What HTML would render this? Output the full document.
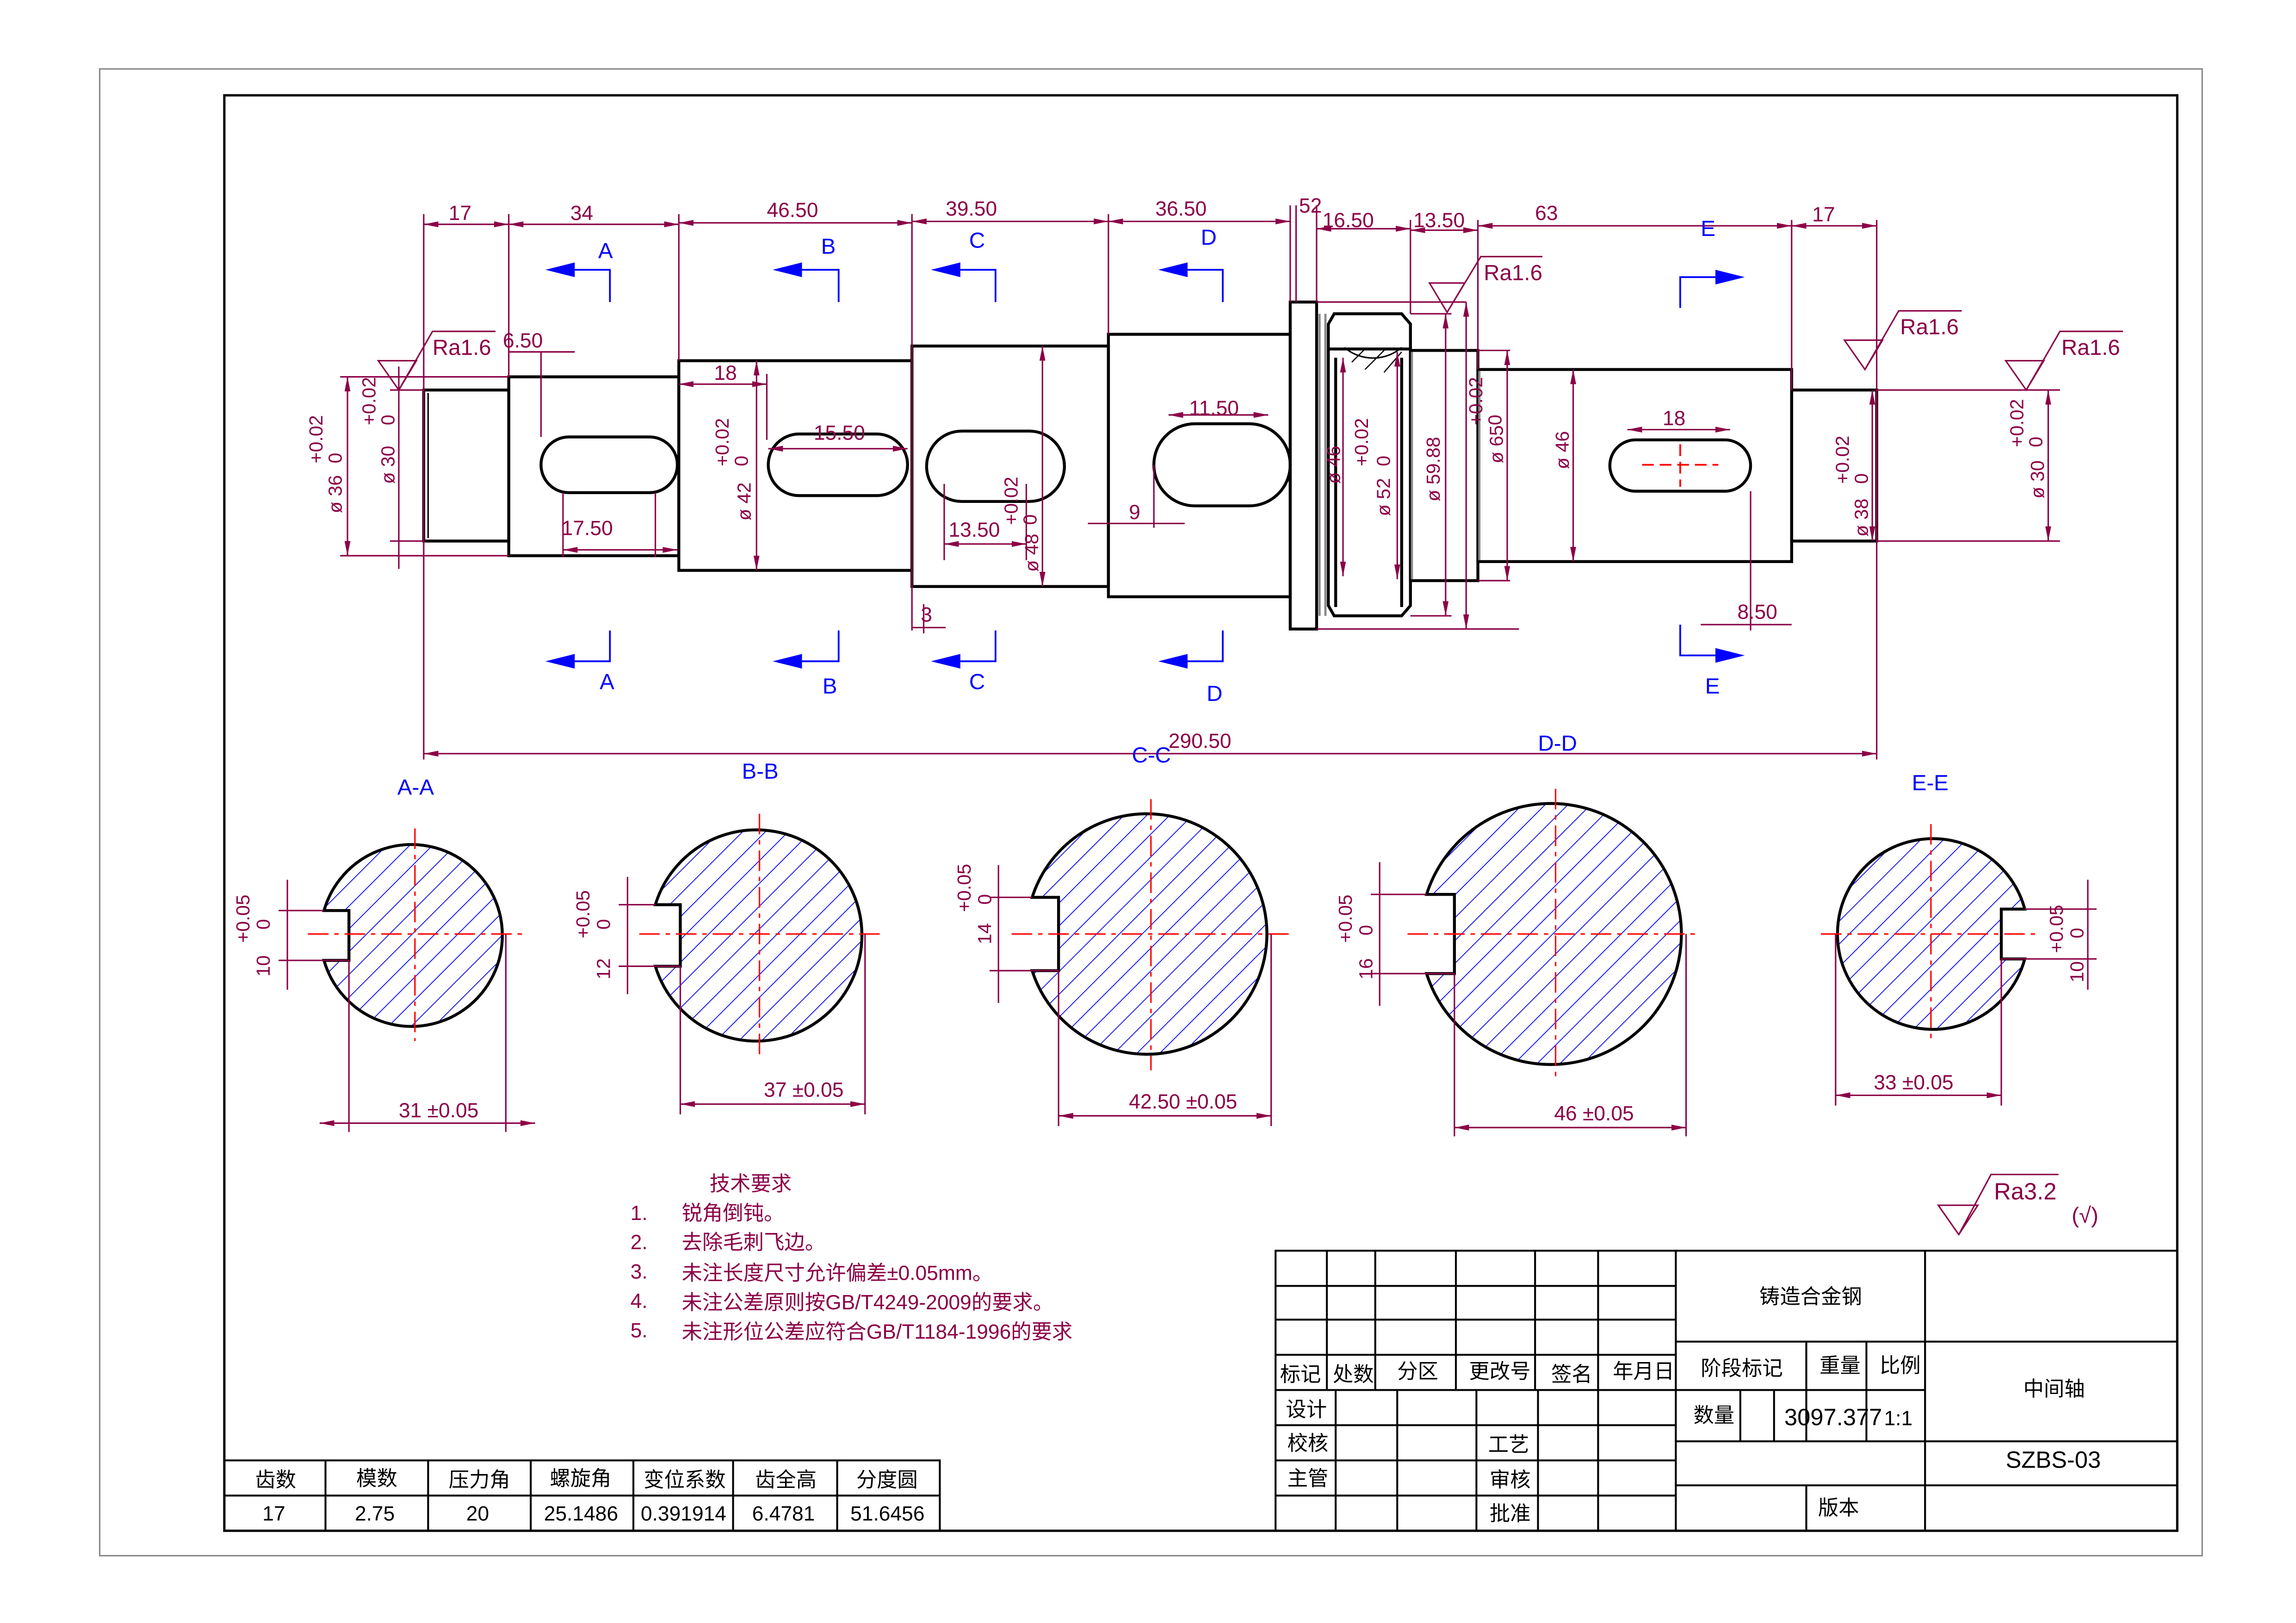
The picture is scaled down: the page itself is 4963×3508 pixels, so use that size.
<!DOCTYPE html>
<html><head><meta charset="utf-8"><style>
html,body{margin:0;padding:0;background:#fff}
svg{display:block}
text{font-family:"Liberation Sans Narrow","Liberation Sans","Noto Sans CJK SC",sans-serif}
</style></head><body>
<svg xmlns="http://www.w3.org/2000/svg" width="4963" height="3508" viewBox="0 0 1566 1106.9" preserveAspectRatio="none">
<defs>
<pattern id="h" patternUnits="userSpaceOnUse" width="11" height="11" patternTransform="rotate(45)">
<line x1="0" y1="0" x2="0" y2="11" stroke="#0000ff" stroke-width="1.1"/></pattern>
<marker id="a" viewBox="0 0 10 4" refX="10" refY="2" markerWidth="10" markerHeight="4" orient="auto-start-reverse" markerUnits="userSpaceOnUse"><path d="M0,0L10,2L0,4z" fill="#8b0046"/></marker>
</defs>
<rect width="1566" height="1107" fill="#fff"/>
<rect x="68" y="47" width="1434" height="1014" fill="none" stroke="#888" stroke-width="1"/>
<rect x="153" y="65" width="1332" height="979" fill="none" stroke="#000" stroke-width="1.6"/>

<!-- SHAFT -->
<g fill="none" stroke="#000" stroke-width="2">
<rect x="289" y="266" width="58" height="103"/>
<line x1="292" y1="268" x2="292" y2="367" stroke-width="1"/>
<rect x="347" y="257" width="116" height="122"/>
<rect x="463" y="246" width="159" height="143"/>
<rect x="622" y="236" width="134" height="164"/>
<rect x="756" y="228" width="124" height="179"/>
<rect x="880" y="206" width="18" height="223"/>
<path d="M906,221 L910,214 L956,214 L962,221 L962,413 L956,420 L910,420 L906,413 Z"/>
<line x1="906" y1="238" x2="962" y2="238"/>
<line x1="911" y1="244" x2="911" y2="414"/>
<line x1="956" y1="244" x2="956" y2="414"/>
<rect x="962" y="239" width="46" height="157"/>
<rect x="1008" y="252" width="214" height="131"/>
<rect x="1222" y="266" width="58" height="103"/>
<path d="M917,237 A30,30 0 0 0 956,237" stroke-width="1"/>
<rect x="369" y="298" width="93" height="38" rx="19"/>
<rect x="524" y="296" width="95" height="42" rx="21"/>
<rect x="632" y="294" width="94" height="48" rx="24"/>
<rect x="787" y="289" width="93" height="56" rx="28"/>
<rect x="1098" y="300" width="96" height="35" rx="17.5"/>
</g>
<g stroke="#888" stroke-width="1.5"><line x1="900" y1="214" x2="900" y2="420"/><line x1="904" y1="214" x2="904" y2="420"/><line x1="963" y1="240" x2="963" y2="395"/><line x1="1009" y1="253" x2="1009" y2="382"/></g>
<g stroke="#000" stroke-width="0.8"><line x1="922" y1="247" x2="931" y2="238"/><line x1="931" y1="252" x2="945" y2="238"/><line x1="944" y1="254" x2="956" y2="240"/></g>
<g stroke="#f00" stroke-width="1.2" stroke-dasharray="8,4"><line x1="1120" y1="317" x2="1172" y2="317"/><line x1="1146" y1="303" x2="1146" y2="332"/></g>

<!-- DIMENSIONS -->
<g stroke="#8b0046" stroke-width="1" fill="none">
<line x1="289" y1="146" x2="289" y2="518"/><line x1="347" y1="146" x2="347" y2="257"/><line x1="463" y1="146" x2="463" y2="246"/><line x1="622" y1="146" x2="622" y2="430"/><line x1="756" y1="146" x2="756" y2="228"/><line x1="880" y1="140" x2="880" y2="206"/><line x1="884" y1="140" x2="884" y2="206"/><line x1="898" y1="140" x2="898" y2="206"/><line x1="962" y1="150" x2="962" y2="214"/><line x1="1008" y1="150" x2="1008" y2="252"/><line x1="1222" y1="150" x2="1222" y2="266"/><line x1="1280" y1="150" x2="1280" y2="518"/>
<line x1="289" y1="153" x2="347" y2="153" marker-start="url(#a)" marker-end="url(#a)"/>
<line x1="347" y1="153" x2="463" y2="153" marker-start="url(#a)" marker-end="url(#a)"/>
<line x1="463" y1="152" x2="622" y2="152" marker-start="url(#a)" marker-end="url(#a)"/>
<line x1="622" y1="151" x2="756" y2="151" marker-start="url(#a)" marker-end="url(#a)"/>
<line x1="756" y1="151" x2="880" y2="151" marker-start="url(#a)" marker-end="url(#a)"/>
<line x1="898" y1="156" x2="962" y2="156" marker-start="url(#a)" marker-end="url(#a)"/>
<line x1="962" y1="157" x2="1008" y2="157" marker-start="url(#a)" marker-end="url(#a)"/>
<line x1="1008" y1="154" x2="1222" y2="154" marker-start="url(#a)" marker-end="url(#a)"/>
<line x1="1222" y1="154" x2="1280" y2="154" marker-start="url(#a)" marker-end="url(#a)"/>
<line x1="289" y1="514" x2="1280" y2="514" marker-start="url(#a)" marker-end="url(#a)"/>
<line x1="232" y1="257" x2="347" y2="257"/><line x1="232" y1="379" x2="347" y2="379"/>
<line x1="237" y1="257" x2="237" y2="379" marker-start="url(#a)" marker-end="url(#a)"/>
<line x1="266" y1="266" x2="289" y2="266"/><line x1="266" y1="369" x2="289" y2="369"/>
<line x1="272" y1="250" x2="272" y2="388"/>
<line x1="1280" y1="266" x2="1405" y2="266"/><line x1="1280" y1="369" x2="1405" y2="369"/>
<line x1="1397" y1="266" x2="1397" y2="369" marker-start="url(#a)" marker-end="url(#a)"/>
<line x1="1280" y1="266" x2="1280" y2="369"/>
<line x1="1277" y1="266" x2="1277" y2="369" marker-start="url(#a)" marker-end="url(#a)"/>
<line x1="516" y1="246" x2="516" y2="389" marker-start="url(#a)" marker-end="url(#a)"/>
<line x1="711" y1="236" x2="711" y2="400" marker-start="url(#a)" marker-end="url(#a)"/>
<line x1="1073" y1="252" x2="1073" y2="383" marker-start="url(#a)" marker-end="url(#a)"/>
<line x1="1008" y1="396" x2="1030" y2="396"/><line x1="1008" y1="239" x2="1030" y2="239"/>
<line x1="1028" y1="239" x2="1028" y2="396" marker-start="url(#a)" marker-end="url(#a)"/>
<line x1="898" y1="206" x2="1000" y2="206"/><line x1="898" y1="429" x2="1036" y2="429"/>
<line x1="1000" y1="206" x2="1000" y2="429" marker-start="url(#a)" marker-end="url(#a)"/>
<line x1="962" y1="214" x2="990" y2="214"/><line x1="962" y1="420" x2="990" y2="420"/>
<line x1="986" y1="214" x2="986" y2="420" marker-start="url(#a)" marker-end="url(#a)"/>
<line x1="953" y1="240" x2="953" y2="395" marker-start="url(#a)" marker-end="url(#a)"/>
<line x1="916" y1="244" x2="916" y2="393" marker-start="url(#a)" marker-end="url(#a)"/>
<line x1="384" y1="375" x2="462" y2="375" marker-start="url(#a)" marker-end="url(#a)"/>
<line x1="384" y1="336" x2="384" y2="380"/><line x1="447" y1="336" x2="447" y2="380"/>
<line x1="347" y1="240" x2="392" y2="240"/><line x1="369" y1="240" x2="369" y2="298"/>
<line x1="463" y1="262" x2="523" y2="262" marker-start="url(#a)" marker-end="url(#a)"/>
<line x1="523" y1="255" x2="523" y2="300"/>
<line x1="524" y1="306" x2="619" y2="306" marker-start="url(#a)" marker-end="url(#a)"/>
<line x1="644" y1="371" x2="700" y2="371" marker-start="url(#a)" marker-end="url(#a)"/>
<line x1="644" y1="330" x2="644" y2="382"/><line x1="700" y1="330" x2="700" y2="382"/>
<line x1="622" y1="428" x2="645" y2="428"/><line x1="630" y1="412" x2="630" y2="432"/>
<line x1="742" y1="357" x2="808" y2="357"/><line x1="787" y1="317" x2="787" y2="360"/>
<line x1="797" y1="283" x2="865" y2="283" marker-start="url(#a)" marker-end="url(#a)"/>
<line x1="1110" y1="293" x2="1180" y2="293" marker-start="url(#a)" marker-end="url(#a)"/>
<line x1="1160" y1="426" x2="1222" y2="426"/><line x1="1194" y1="335" x2="1194" y2="430"/>
<path d="M258,246 L272,266 L284,246 Z M272,266 L295,226 L338,226"/>
<path d="M975,193 L987,213 L999,193 Z M987,213 L1010,175 L1052,175"/>
<path d="M1258,232 L1272,252 L1284,232 Z M1272,252 L1295,212 L1338,212"/>
<path d="M1368,246 L1382,266 L1394,246 Z M1382,266 L1405,226 L1448,226"/>
<path d="M1322,822 L1336,842 L1349,822 Z M1336,842 L1358,801 L1404,801"/>
</g>
<g fill="#8b0046" font-size="14">
<text x="306" y="150">17</text><text x="389" y="150">34</text><text x="523" y="148">46.50</text><text x="645" y="147">39.50</text><text x="788" y="147">36.50</text>
<text x="886" y="145">52</text><text x="902" y="155">16.50</text><text x="964" y="155">13.50</text><text x="1047" y="150">63</text><text x="1236" y="151">17</text>
<text x="797" y="510">290.50</text>
<text x="295" y="242" font-size="15">Ra1.6</text><text x="343" y="237">6.50</text>
<text x="1012" y="191" font-size="15">Ra1.6</text><text x="1296" y="228" font-size="15">Ra1.6</text><text x="1406" y="242" font-size="15">Ra1.6</text>
<text x="1360" y="818" font-size="16">Ra3.2</text><text x="1413" y="834" font-size="15">(√)</text>
<text x="383" y="365">17.50</text><text x="487" y="259">18</text><text x="555" y="300">15.50</text><text x="647" y="366">13.50</text><text x="628" y="424">3</text>
<text x="770" y="354">9</text><text x="811" y="283">11.50</text><text x="1134" y="290">18</text><text x="1185" y="422">8.50</text>
<g font-size="13">
<text transform="translate(233,350) rotate(-90)">ø 36</text><text transform="translate(220,316) rotate(-90)">+0.02</text><text transform="translate(233,316) rotate(-90)">0</text>
<text transform="translate(269,330) rotate(-90)">ø 30</text><text transform="translate(256,290) rotate(-90)">+0.02</text><text transform="translate(269,290) rotate(-90)">0</text>
<text transform="translate(512,355) rotate(-90)">ø 42</text><text transform="translate(497,318) rotate(-90)">+0.02</text><text transform="translate(510,318) rotate(-90)">0</text>
<text transform="translate(708,390) rotate(-90)">ø 48</text><text transform="translate(694,358) rotate(-90)">+0.02</text><text transform="translate(707,358) rotate(-90)">0</text>
<text transform="translate(914,330) rotate(-90)">ø 46</text><text transform="translate(933,318) rotate(-90)">+0.02</text><text transform="translate(948,318) rotate(-90)">0</text>
<text transform="translate(948,352) rotate(-90)">ø 52</text><text transform="translate(982,342) rotate(-90)">ø 59.88</text>
<text transform="translate(1025,316) rotate(-90)">ø 65</text><text transform="translate(1011,290) rotate(-90)">+0.02</text><text transform="translate(1024,290) rotate(-90)">0</text>
<text transform="translate(1070,320) rotate(-90)">ø 46</text>
<text transform="translate(1274,366) rotate(-90)">ø 38</text><text transform="translate(1261,330) rotate(-90)">+0.02</text><text transform="translate(1274,330) rotate(-90)">0</text>
<text transform="translate(1394,340) rotate(-90)">ø 30</text><text transform="translate(1380,305) rotate(-90)">+0.02</text><text transform="translate(1393,305) rotate(-90)">0</text>
</g></g>

<!-- SECTION MARKERS -->
<g stroke="#0000ff" stroke-width="1.2" fill="none">
<path d="M390,184 L416,184 L416,206"/><path d="M545,184 L572,184 L572,206"/><path d="M653,184 L679,184 L679,206"/><path d="M808,184 L834,184 L834,206"/>
<path d="M1146,210 L1146,189 L1172,189"/>
<path d="M390,451 L416,451 L416,430"/><path d="M545,451 L572,451 L572,430"/><path d="M653,451 L679,451 L679,430"/><path d="M808,451 L834,451 L834,430"/>
<path d="M1146,426 L1146,447 L1172,447"/>
</g>
<g fill="#0000ff">
<path d="M372,184 L392,179 L392,189Z"/><path d="M527,184 L547,179 L547,189Z"/><path d="M635,184 L655,179 L655,189Z"/><path d="M790,184 L810,179 L810,189Z"/><path d="M1190,189 L1170,184 L1170,194Z"/>
<path d="M372,451 L392,446 L392,456Z"/><path d="M527,451 L547,446 L547,456Z"/><path d="M635,451 L655,446 L655,456Z"/><path d="M790,451 L810,446 L810,456Z"/><path d="M1190,447 L1170,442 L1170,452Z"/>
<g font-size="15">
<text x="408" y="176">A</text><text x="560" y="173">B</text><text x="661" y="169">C</text><text x="819" y="167">D</text><text x="1160" y="161">E</text>
<text x="409" y="470">A</text><text x="561" y="473">B</text><text x="661" y="470">C</text><text x="823" y="478">D</text><text x="1163" y="473">E</text>
<text x="271" y="542">A-A</text><text x="506" y="531">B-B</text><text x="772" y="520">C-C</text><text x="1049" y="512">D-D</text><text x="1304" y="539">E-E</text>
</g></g>

<!-- SECTIONS -->
<g stroke="#000" stroke-width="2">
<path d="M221,621 L238,621 L238,655 L221,655 A62,62 0 1 0 221,621 Z" fill="url(#h)"/>
<path d="M447,617 L464,617 L464,659 L447,659 A72,72 0 1 0 447,617 Z" fill="url(#h)"/>
<path d="M704,612 L722,612 L722,662 L704,662 A82,82 0 1 0 704,612 Z" fill="url(#h)"/>
<path d="M973,610 L992,610 L992,664 L973,664 A89,89 0 1 0 973,610 Z" fill="url(#h)"/>
<path d="M1381,620 L1365,620 L1365,654 L1381,654 A65,65 0 1 1 1381,620 Z" fill="url(#h)"/>
</g>
<g stroke="#f00" stroke-width="1" stroke-dasharray="14,4,3,4">
<line x1="210" y1="637" x2="356" y2="637"/><line x1="283" y1="565" x2="283" y2="710"/>
<line x1="436" y1="637" x2="600" y2="637"/><line x1="518" y1="555" x2="518" y2="720"/>
<line x1="690" y1="637" x2="880" y2="637"/><line x1="785" y1="545" x2="785" y2="730"/>
<line x1="960" y1="637" x2="1160" y2="637"/><line x1="1061" y1="538" x2="1061" y2="738"/>
<line x1="1242" y1="637" x2="1392" y2="637"/><line x1="1317" y1="562" x2="1317" y2="712"/>
</g>
<g stroke="#8b0046" stroke-width="1" fill="none">
<line x1="238" y1="655" x2="238" y2="772"/><line x1="345" y1="637" x2="345" y2="772"/><line x1="218" y1="766" x2="365" y2="766" marker-start="url(#a)" marker-end="url(#a)"/>
<line x1="190" y1="621" x2="221" y2="621"/><line x1="190" y1="655" x2="238" y2="655"/><line x1="196" y1="600" x2="196" y2="675"/>
<line x1="464" y1="659" x2="464" y2="760"/><line x1="590" y1="637" x2="590" y2="760"/><line x1="464" y1="753" x2="590" y2="753" marker-start="url(#a)" marker-end="url(#a)"/>
<line x1="422" y1="617" x2="447" y2="617"/><line x1="422" y1="659" x2="464" y2="659"/><line x1="428" y1="598" x2="428" y2="678"/>
<line x1="722" y1="662" x2="722" y2="768"/><line x1="867" y1="637" x2="867" y2="768"/><line x1="722" y1="761" x2="867" y2="761" marker-start="url(#a)" marker-end="url(#a)"/>
<line x1="675" y1="612" x2="704" y2="612"/><line x1="675" y1="662" x2="722" y2="662"/><line x1="681" y1="590" x2="681" y2="684"/>
<line x1="992" y1="664" x2="992" y2="775"/><line x1="1150" y1="637" x2="1150" y2="775"/><line x1="992" y1="769" x2="1150" y2="769" marker-start="url(#a)" marker-end="url(#a)"/>
<line x1="935" y1="610" x2="973" y2="610"/><line x1="935" y1="664" x2="992" y2="664"/><line x1="941" y1="588" x2="941" y2="686"/>
<line x1="1252" y1="637" x2="1252" y2="754"/><line x1="1365" y1="654" x2="1365" y2="754"/><line x1="1252" y1="747" x2="1365" y2="747" marker-start="url(#a)" marker-end="url(#a)"/>
<line x1="1381" y1="620" x2="1430" y2="620"/><line x1="1365" y1="654" x2="1430" y2="654"/><line x1="1424" y1="600" x2="1424" y2="675"/>
</g>
<g fill="#8b0046" font-size="14">
<text x="272" y="762">31 ±0.05</text><text x="521" y="748">37 ±0.05</text><text x="770" y="756">42.50 ±0.05</text><text x="1060" y="764">46 ±0.05</text><text x="1278" y="743">33 ±0.05</text>
<g font-size="13">
<text transform="translate(170,643) rotate(-90)">+0.05</text><text transform="translate(184,634) rotate(-90)">0</text><text transform="translate(184,666) rotate(-90)">10</text>
<text transform="translate(402,640) rotate(-90)">+0.05</text><text transform="translate(416,634) rotate(-90)">0</text><text transform="translate(416,668) rotate(-90)">12</text>
<text transform="translate(662,622) rotate(-90)">+0.05</text><text transform="translate(676,617) rotate(-90)">0</text><text transform="translate(676,644) rotate(-90)">14</text>
<text transform="translate(922,643) rotate(-90)">+0.05</text><text transform="translate(936,638) rotate(-90)">0</text><text transform="translate(936,668) rotate(-90)">16</text>
<text transform="translate(1407,650) rotate(-90)">+0.05</text><text transform="translate(1421,640) rotate(-90)">0</text><text transform="translate(1421,670) rotate(-90)">10</text>
</g>
<g font-size="14">
<text x="484" y="812">技术要求</text>
<text x="430" y="832">1.</text><text x="465" y="832">锐角倒钝。</text>
<text x="430" y="852">2.</text><text x="465" y="852">去除毛刺飞边。</text>
<text x="430" y="872">3.</text><text x="465" y="873">未注长度尺寸允许偏差±0.05mm。</text>
<text x="430" y="892">4.</text><text x="465" y="893">未注公差原则按GB/T4249-2009的要求。</text>
<text x="430" y="912">5.</text><text x="465" y="913">未注形位公差应符合GB/T1184-1996的要求</text>
</g></g>

<!-- GEAR TABLE -->
<g stroke="#000" stroke-width="1.3" fill="none">
<rect x="153" y="996" width="488" height="48"/><line x1="153" y1="1020" x2="641" y2="1020"/>
<line x1="222" y1="996" x2="222" y2="1044"/><line x1="292" y1="996" x2="292" y2="1044"/><line x1="362" y1="996" x2="362" y2="1044"/><line x1="432" y1="996" x2="432" y2="1044"/><line x1="500" y1="996" x2="500" y2="1044"/><line x1="571" y1="996" x2="571" y2="1044"/>
</g>
<g font-size="14" fill="#000">
<text x="174" y="1014">齿数</text><text x="243" y="1013">模数</text><text x="306" y="1014">压力角</text><text x="375" y="1013">螺旋角</text><text x="439" y="1014">变位系数</text><text x="515" y="1014">齿全高</text><text x="584" y="1014">分度圆</text>
<text x="179" y="1037">17</text><text x="242" y="1037">2.75</text><text x="318" y="1037">20</text><text x="371" y="1037">25.1486</text><text x="437" y="1037">0.391914</text><text x="513" y="1037">6.4781</text><text x="580" y="1037">51.6456</text>
</g>

<!-- TITLE BLOCK -->
<g stroke="#000" stroke-width="1.3" fill="none">
<rect x="870" y="853" width="615" height="191"/>
<line x1="870" y1="877" x2="1143" y2="877"/><line x1="870" y1="900" x2="1143" y2="900"/><line x1="870" y1="924" x2="1143" y2="924"/><line x1="870" y1="948" x2="1143" y2="948"/><line x1="870" y1="972" x2="1143" y2="972"/><line x1="870" y1="996" x2="1143" y2="996"/><line x1="870" y1="1020" x2="1143" y2="1020"/>
<line x1="905" y1="853" x2="905" y2="948"/><line x1="938" y1="853" x2="938" y2="948"/><line x1="993" y1="853" x2="993" y2="948"/><line x1="1047" y1="853" x2="1047" y2="948"/><line x1="1090" y1="853" x2="1090" y2="1044"/>
<line x1="911" y1="948" x2="911" y2="1044"/><line x1="953" y1="948" x2="953" y2="1044"/><line x1="1007" y1="948" x2="1007" y2="1044"/><line x1="1049" y1="948" x2="1049" y2="1044"/>
<line x1="1143" y1="853" x2="1143" y2="1044"/><line x1="1313" y1="853" x2="1313" y2="1044"/>
<line x1="1143" y1="915" x2="1485" y2="915"/><line x1="1143" y1="948" x2="1313" y2="948"/><line x1="1143" y1="983" x2="1485" y2="983"/><line x1="1143" y1="1013" x2="1485" y2="1013"/>
<line x1="1232" y1="915" x2="1232" y2="983"/><line x1="1273" y1="915" x2="1273" y2="983"/><line x1="1187" y1="948" x2="1187" y2="983"/><line x1="1210" y1="948" x2="1210" y2="983"/>
<line x1="1232" y1="1013" x2="1232" y2="1044"/>
</g>
<g font-size="14" fill="#000">
<text x="873" y="942">标记</text><text x="909" y="942">处数</text><text x="953" y="940">分区</text><text x="1002" y="940">更改号</text><text x="1058" y="942">签名</text><text x="1100" y="940">年月日</text>
<text x="877" y="966">设计</text><text x="878" y="989">校核</text><text x="878" y="1013">主管</text>
<text x="1015" y="990">工艺</text><text x="1016" y="1014">审核</text><text x="1016" y="1037">批准</text>
<text x="1200" y="889">铸造合金钢</text>
<text x="1160" y="938">阶段标记</text><text x="1241" y="936">重量</text><text x="1282" y="936">比例</text>
<text x="1155" y="970">数量</text><text x="1217" y="972" font-size="16">3097.377</text><text x="1285" y="972">1:1</text>
<text x="1380" y="952">中间轴</text><text x="1368" y="1001" font-size="16">SZBS-03</text>
<text x="1240" y="1033">版本</text>
</g>
</svg>
</body></html>
